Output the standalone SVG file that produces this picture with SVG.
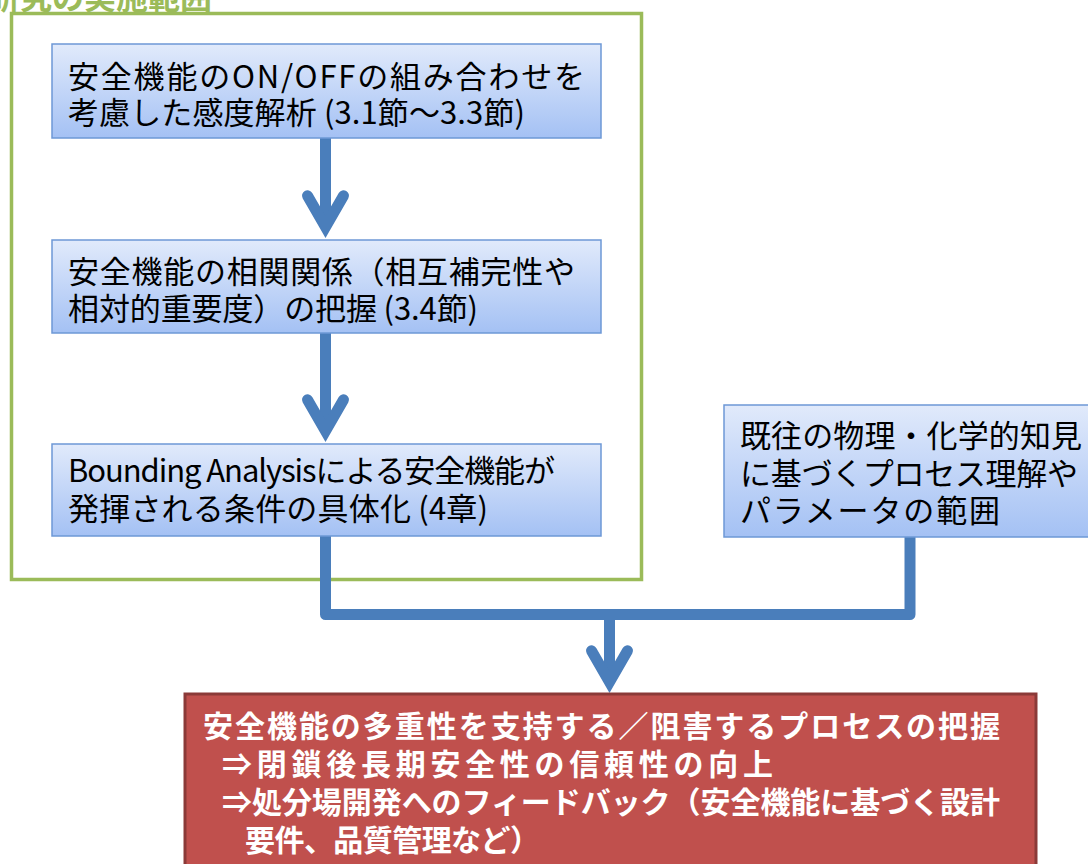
<svg xmlns="http://www.w3.org/2000/svg" width="1088" height="864" viewBox="0 0 1088 864">
<style>
.jp{font-family:"Noto Sans CJK JP","Noto Sans",sans-serif;font-size:31px;fill:#000}
.rt{font-family:"Noto Sans CJK JP","Noto Sans",sans-serif;font-size:30px;font-weight:bold;fill:#fff}
.gt{font-family:"Noto Sans CJK JP","Noto Sans",sans-serif;font-size:32px;font-weight:bold;fill:#9bbb59}
.box{fill:url(#bg);stroke:#6d98d6;stroke-width:1.5}
.cn{fill:none;stroke:#4a7ebb;stroke-width:11}
.hd{fill:none;stroke:#4a7ebb;stroke-width:11;stroke-linejoin:miter;stroke-miterlimit:10;stroke-linecap:round}
</style>
<defs>
<linearGradient id="bg" x1="0" y1="0" x2="0" y2="1">
<stop offset="0" stop-color="#e1eafb"/>
<stop offset="1" stop-color="#a4c1f4"/>
</linearGradient>
</defs>
<rect width="1088" height="864" fill="#fff"/>
<g id="scope">
<rect x="11.5" y="13.5" width="630" height="566" fill="none" stroke="#9bbb59" stroke-width="3.5"/>
<text class="gt" x="212" y="9" text-anchor="end">本研究の実施範囲</text>
</g>
<g id="connectors">
<path class="cn" d="M325.5,138 V227"/>
<polyline class="hd" points="307.5,195.8 325.5,227 343.5,195.8"/>
<path class="cn" d="M325.5,333 V431"/>
<polyline class="hd" points="307.5,399.8 325.5,431 343.5,399.8"/>
<path class="cn" d="M325.5,536 V614.5 H910 V537" stroke-linejoin="round"/>
<path class="cn" d="M609.5,614.5 V682"/>
<polyline class="hd" points="591.5,650.8 609.5,682 627.5,650.8"/>
</g>
<g id="node1">
<rect class="box" x="52" y="44" width="549" height="94"/>
<text class="jp"><tspan x="68" y="88" textLength="517">安全機能のON/OFFの組み合わせを</tspan><tspan x="68" y="124" textLength="457">考慮した感度解析 (3.1節～3.3節)</tspan></text>
</g>
<g id="node2">
<rect class="box" x="52" y="240" width="549" height="93"/>
<text class="jp"><tspan x="68" y="283" textLength="507">安全機能の相関関係（相互補完性や</tspan><tspan x="68" y="320" textLength="410">相対的重要度）の把握 (3.4節)</tspan></text>
</g>
<g id="node3">
<rect class="box" x="52" y="444" width="549" height="92"/>
<text class="jp"><tspan x="68" y="482" textLength="487">Bounding Analysisによる安全機能が</tspan><tspan x="68" y="520" textLength="420">発揮される条件の具体化 (4章)</tspan></text>
</g>
<g id="node4">
<rect class="box" x="724" y="405" width="380" height="132"/>
<text class="jp"><tspan x="740" y="447" textLength="342">既往の物理・化学的知見</tspan><tspan x="740" y="485" textLength="338">に基づくプロセス理解や</tspan><tspan x="740" y="522" textLength="260">パラメータの範囲</tspan></text>
</g>
<g id="result">
<rect x="185" y="694" width="851" height="190" fill="#c0504d" stroke="#8b3a38" stroke-width="3"/>
<text class="rt"><tspan x="203" y="737" textLength="797">安全機能の多重性を支持する／阻害するプロセスの把握</tspan><tspan x="222" y="775" textLength="551">⇒閉鎖後長期安全性の信頼性の向上</tspan><tspan x="222" y="813" textLength="778">⇒処分場開発へのフィードバック（安全機能に基づく設計</tspan><tspan x="245" y="851" textLength="295">要件、品質管理など）</tspan></text>
</g>
</svg>
